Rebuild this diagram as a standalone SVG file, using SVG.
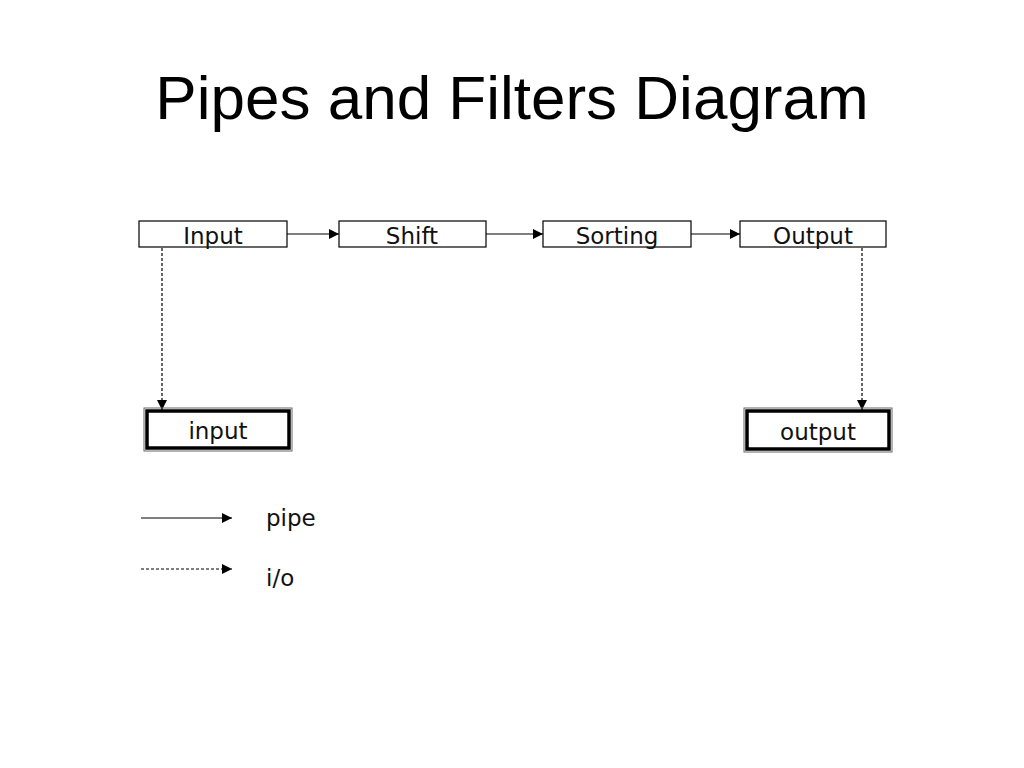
<svg xmlns="http://www.w3.org/2000/svg" width="1024" height="768" viewBox="0 0 1024 768">
<defs>
<marker id="ah" viewBox="0 0 10 10" refX="10" refY="5" markerWidth="10" markerHeight="10" markerUnits="userSpaceOnUse" orient="auto">
<path d="M0,0 L10,5 L0,10 z" fill="#000"/>
</marker>
<style>
.box{fill:#fff;stroke:#000;stroke-width:1.2}
.lbl{font-family:"DejaVu Sans",Verdana,sans-serif;font-size:23px;text-anchor:middle;fill:#111}
.pipe{stroke:#000;stroke-width:1.2;fill:none;marker-end:url(#ah)}
.io{stroke:#000;stroke-width:1.2;fill:none;stroke-dasharray:3,2;marker-end:url(#ah)}
.outer{fill:none;stroke:#666;stroke-width:1}
.inner{fill:#fff;stroke:#000;stroke-width:3.5}
</style>
</defs>
<rect width="1024" height="768" fill="#fff"/>
<text x="512" y="119" font-family="Liberation Sans,Arial,sans-serif" font-size="62" text-anchor="middle" fill="#000">Pipes and Filters Diagram</text>
<g id="connectors">
<line class="pipe" x1="287" y1="234" x2="339" y2="234"/>
<line class="pipe" x1="486" y1="234" x2="543" y2="234"/>
<line class="pipe" x1="691" y1="234" x2="740" y2="234"/>
<line class="io" x1="162" y1="248" x2="162" y2="410"/>
<line class="io" x1="862" y1="248" x2="862" y2="410"/>
</g>
<g id="node-input-filter"><rect class="box" x="139" y="221" width="148" height="26"/><text class="lbl" x="213" y="244">Input</text></g>
<g id="node-shift"><rect class="box" x="339" y="221" width="147" height="26"/><text class="lbl" x="412" y="244">Shift</text></g>
<g id="node-sorting"><rect class="box" x="543" y="221" width="148" height="26"/><text class="lbl" x="617" y="244">Sorting</text></g>
<g id="node-output-filter"><rect class="box" x="740" y="221" width="146" height="26"/><text class="lbl" x="813" y="244">Output</text></g>
<g id="node-input-store"><rect class="outer" x="144" y="408" width="148" height="43"/><rect class="inner" x="147" y="411" width="142" height="37"/><text class="lbl" x="218" y="439">input</text></g>
<g id="node-output-store"><rect class="outer" x="744" y="408" width="148" height="44"/><rect class="inner" x="747" y="411" width="142" height="38"/><text class="lbl" x="818" y="440">output</text></g>
<g id="legend">
<line class="pipe" x1="141" y1="518" x2="232" y2="518"/>
<text x="266" y="526" font-family="DejaVu Sans,Verdana,sans-serif" font-size="23" fill="#111">pipe</text>
<line class="io" x1="141" y1="569" x2="232" y2="569"/>
<text x="266" y="586" font-family="DejaVu Sans,Verdana,sans-serif" font-size="23" fill="#111">i/o</text>
</g>
</svg>
